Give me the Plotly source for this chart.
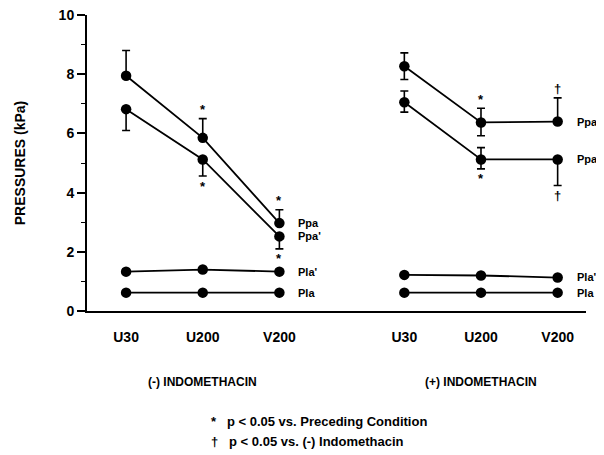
import plotly.graph_objects as go

# ---- data ----
conditions = ["U30", "U200", "V200"]
x_minus = [1, 2, 3]            # (-) indomethacin positions
x_plus = [4.63, 5.63, 6.63]    # (+) indomethacin positions

# (-) Indomethacin
ppa_minus = [7.95, 5.85, 2.97]
ppa_minus_up = [0.85, 0.65, 0.45]
ppa_minus_dn = [0, 0, 0]
ppap_minus = [6.82, 5.12, 2.52]
ppap_minus_up = [0, 0, 0]
ppap_minus_dn = [0.72, 0.56, 0.42]
plap_minus = [1.33, 1.40, 1.33]
plap_minus_up = [0.08, 0, 0.08]
plap_minus_dn = [0.08, 0.08, 0]
pla_minus = [0.62, 0.62, 0.62]

# (+) Indomethacin
ppa_plus = [8.27, 6.37, 6.40]
ppa_plus_up = [0.45, 0.48, 0.80]
ppa_plus_dn = [0.45, 0.45, 0]
ppap_plus = [7.05, 5.12, 5.12]
ppap_plus_up = [0.38, 0.40, 0]
ppap_plus_dn = [0.33, 0.32, 0.88]
plap_plus = [1.22, 1.20, 1.13]
pla_plus = [0.62, 0.62, 0.62]

# significance marks: (x, y, symbol, direction)
sig_marks = [
    (2, 6.50, "*", 1), (2, 4.56, "*", -1),
    (3, 3.42, "*", 1), (3, 2.10, "*", -1),
    (5.63, 6.85, "*", 1), (5.63, 4.80, "*", -1),
    (6.63, 7.20, "†", 1), (6.63, 4.24, "†", -1),
]

series_labels_minus = [("Ppa", 2.97), ("Ppa'", 2.52), ("Pla'", 1.33), ("Pla", 0.62)]
series_labels_plus = [("Ppa", 6.40), ("Ppa'", 5.12), ("Pla'", 1.16), ("Pla", 0.62)]

FONT = "Liberation Sans, Arial, sans-serif"
fig = go.Figure()


def add_series(x, y, up=None, dn=None):
    kw = {}
    if up is not None:
        kw["error_y"] = dict(type="data", symmetric=False, array=up, arrayminus=dn,
                             color="black", thickness=1.6, width=4)
    fig.add_trace(go.Scatter(
        x=x, y=y, mode="lines+markers",
        line=dict(color="black", width=1.8),
        marker=dict(color="black", size=10.5, symbol="circle"),
        showlegend=False, hoverinfo="skip", **kw))


add_series(x_minus, ppa_minus, ppa_minus_up, ppa_minus_dn)
add_series(x_minus, ppap_minus, ppap_minus_up, ppap_minus_dn)
add_series(x_minus, plap_minus, plap_minus_up, plap_minus_dn)
add_series(x_minus, pla_minus)
add_series(x_plus, ppa_plus, ppa_plus_up, ppa_plus_dn)
add_series(x_plus, ppap_plus, ppap_plus_up, ppap_plus_dn)
add_series(x_plus, plap_plus)
add_series(x_plus, pla_plus)

annotations = []
for xv, yv, sym, d in sig_marks:
    annotations.append(dict(x=xv, y=yv, xref="x", yref="y", text="<b>%s</b>" % sym,
                            showarrow=False, yshift=9 if d > 0 else -10,
                            font=dict(family=FONT, size=13, color="black")))
for lbls, xl in ((series_labels_minus, x_minus[-1]), (series_labels_plus, x_plus[-1])):
    for txt, yv in lbls:
        annotations.append(dict(x=xl, y=yv, xref="x", yref="y", text="<b>%s</b>" % txt,
                                showarrow=False, xanchor="left", xshift=17,
                                font=dict(family=FONT, size=11, color="black")))

annotations += [
    dict(x=2, y=-0.27, xref="x", yref="paper", text="<b>(-) INDOMETHACIN</b>",
         showarrow=False, font=dict(family=FONT, size=12, color="black")),
    dict(x=5.63, y=-0.27, xref="x", yref="paper", text="<b>(+) INDOMETHACIN</b>",
         showarrow=False, font=dict(family=FONT, size=12, color="black")),
    dict(x=0.245, y=-0.404, xref="paper", yref="paper", xanchor="left",
         text="<b>*&nbsp;&nbsp;&nbsp;p &lt; 0.05 vs. Preceding Condition</b>",
         showarrow=False, font=dict(family=FONT, size=13, color="black")),
    dict(x=0.245, y=-0.474, xref="paper", yref="paper", xanchor="left",
         text="<b>†&nbsp;&nbsp;&nbsp;p &lt; 0.05 vs. (-) Indomethacin</b>",
         showarrow=False, font=dict(family=FONT, size=13, color="black")),
]

fig.update_layout(
    width=596, height=447,
    margin=dict(l=79, r=18, t=7, b=144, autoexpand=False),
    paper_bgcolor="white", plot_bgcolor="white",
    annotations=annotations,
    font=dict(family=FONT, color="black"),
    xaxis=dict(range=[0.49, 7.0], tickvals=x_minus + x_plus,
               ticktext=["<b>%s</b>" % c for c in conditions * 2],
               ticks="", showline=True, linecolor="black", linewidth=2,
               showgrid=False, zeroline=False, ticklabelstandoff=12,
               automargin=False, ticklabeloverflow="allow",
               tickfont=dict(family=FONT, size=14, color="black")),
    yaxis=dict(range=[0, 10], tickvals=[0, 2, 4, 6, 8, 10],
               ticktext=["<b>%d</b>" % v for v in [0, 2, 4, 6, 8, 10]],
               ticks="outside", ticklen=8, tickwidth=1.5, tickcolor="black",
               minor=dict(tickvals=[1, 3, 5, 7, 9], ticks="outside", ticklen=4,
                          tickwidth=1.2, tickcolor="black"),
               showline=True, linecolor="black", linewidth=2,
               showgrid=False, zeroline=False, automargin=False,
               ticklabeloverflow="allow",
               tickfont=dict(family=FONT, size=14, color="black"),
               title=dict(text="<b>PRESSURES (kPa)</b>", standoff=30,
                          font=dict(family=FONT, size=14, color="black"))),
)

fig.write_html("out.html")
